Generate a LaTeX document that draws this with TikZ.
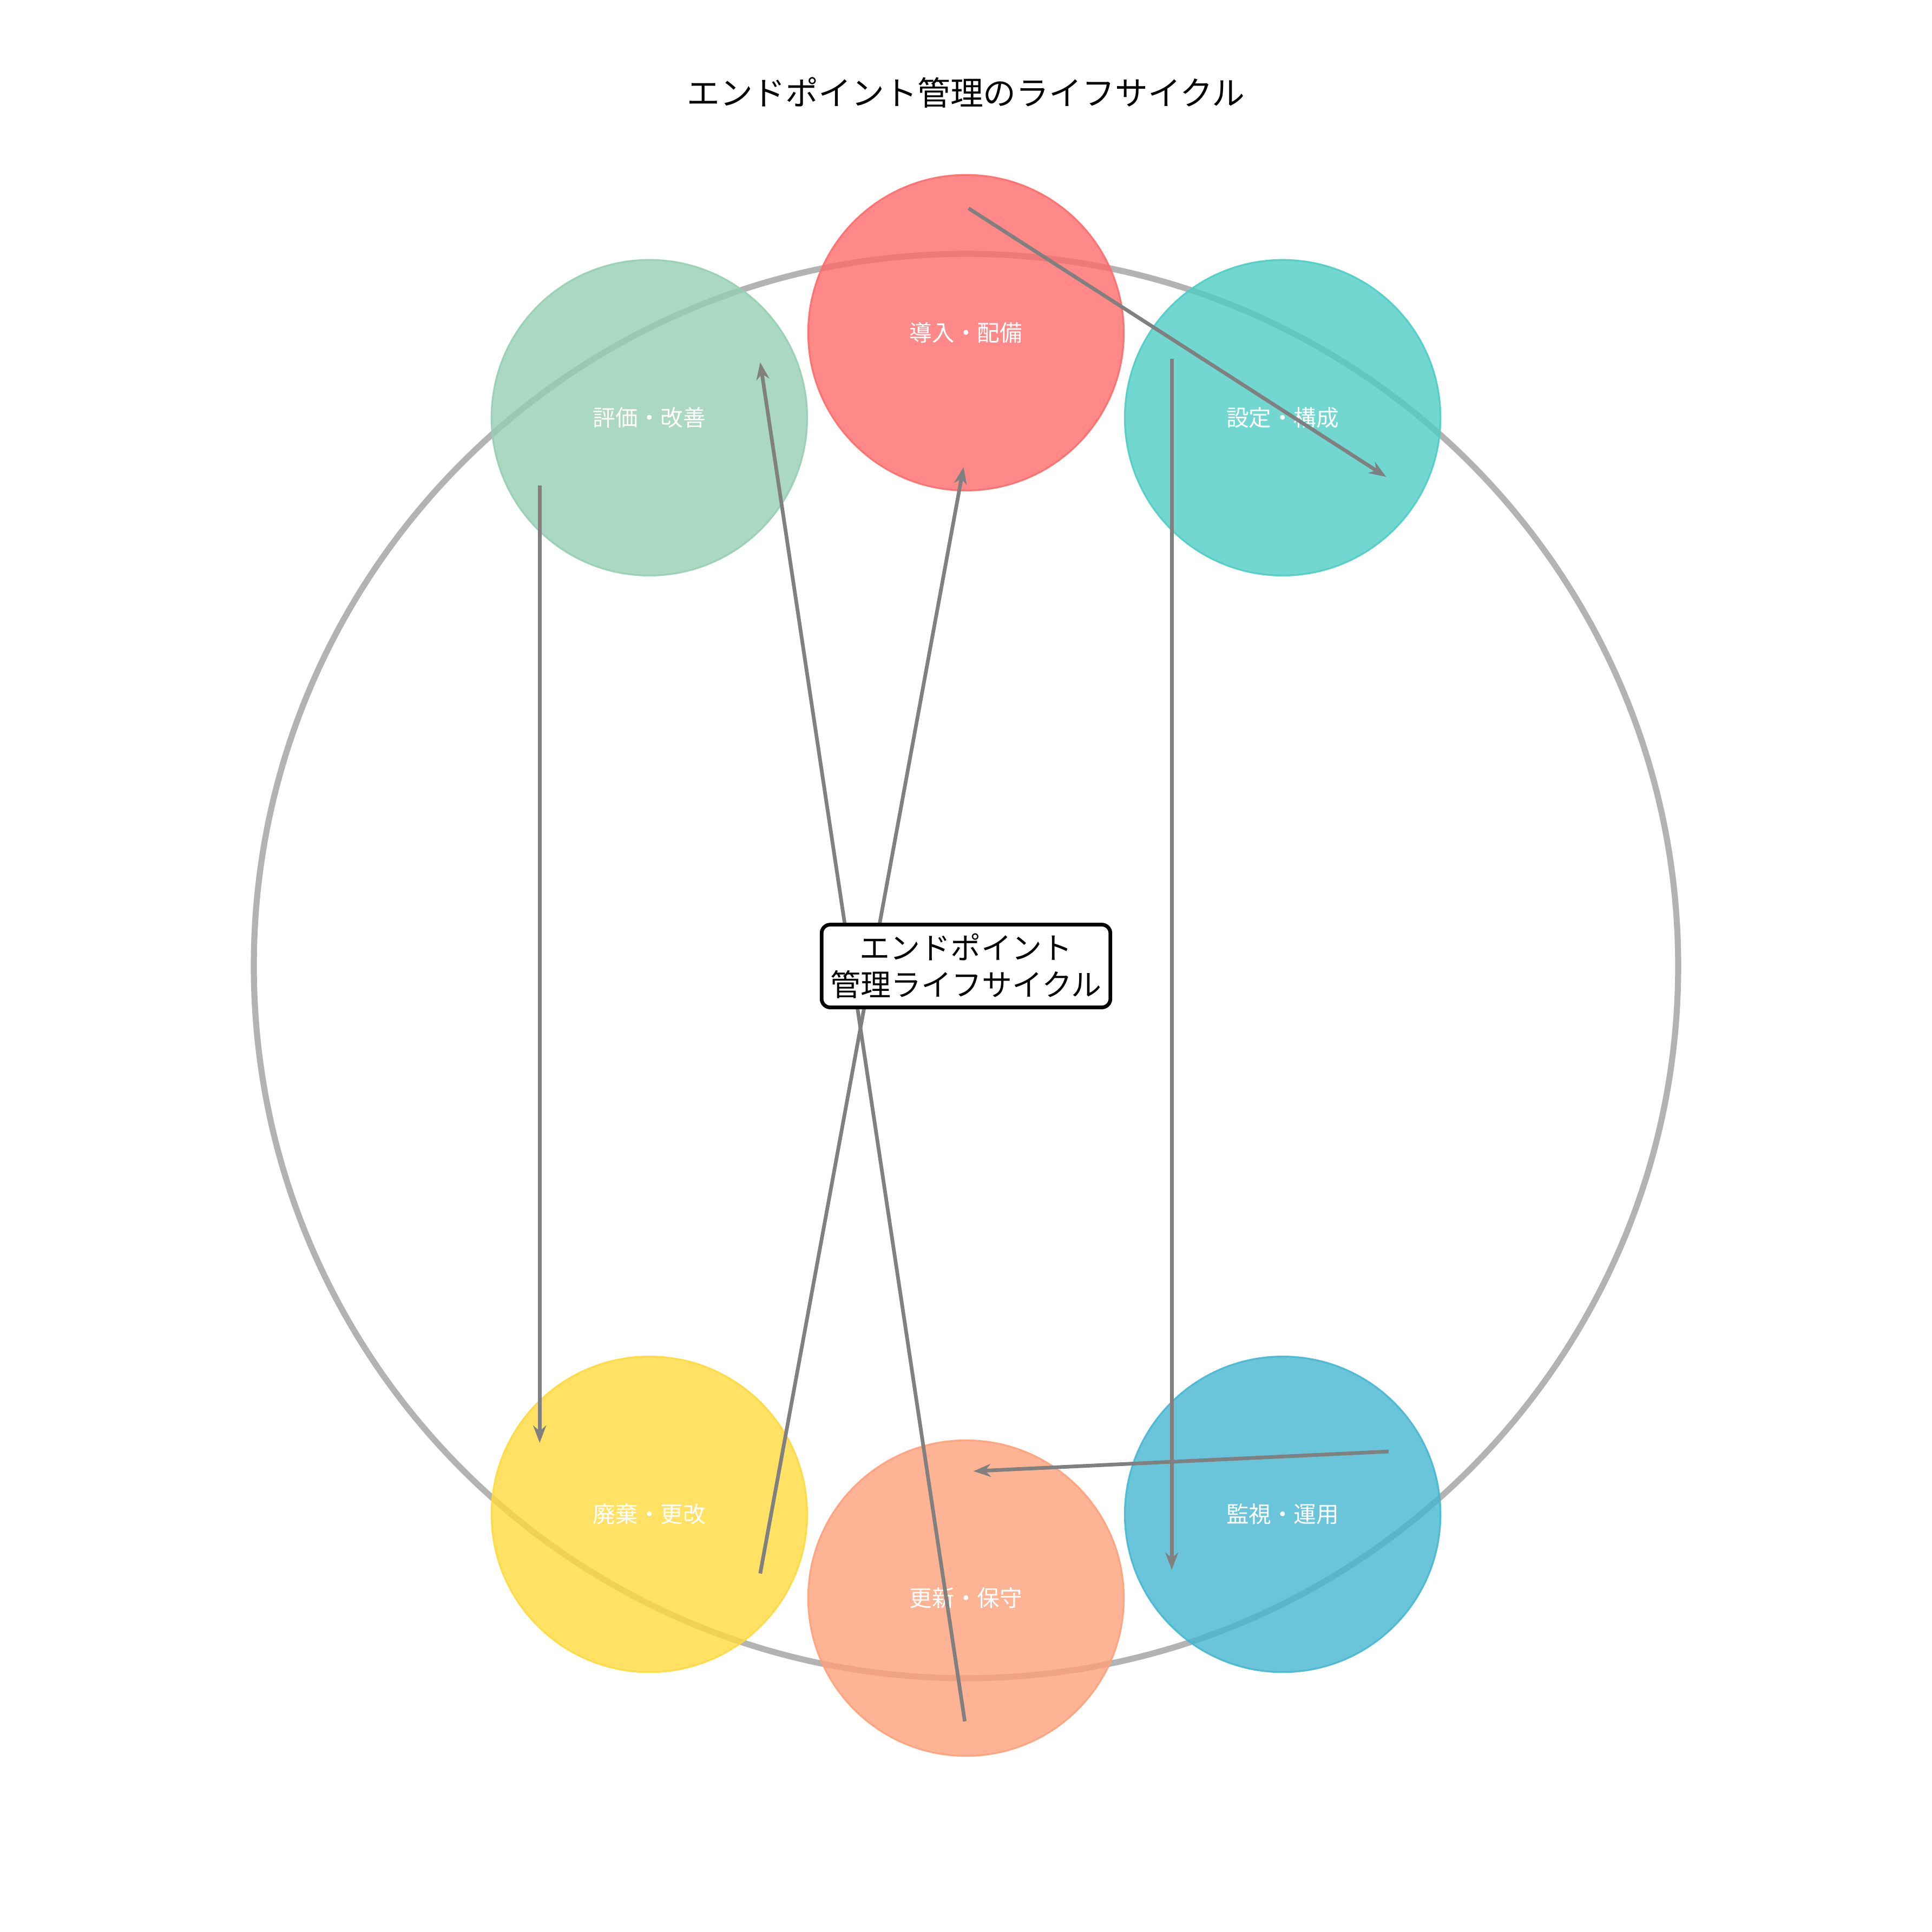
\documentclass[tikz,border=0pt]{standalone}
\usepackage{fontspec}
\setmainfont{Noto Sans CJK JP}
\usetikzlibrary{arrows.meta}
\definecolor{c1}{HTML}{FF6B6B}
\definecolor{c2}{HTML}{4ECDC4}
\definecolor{c3}{HTML}{45B7D1}
\definecolor{c4}{HTML}{FFA07A}
\definecolor{c5}{HTML}{FFD93D}
\definecolor{c6}{HTML}{96CEB4}
\begin{document}
\begin{tikzpicture}[x=0.01cm,y=-0.01cm,
  phase/.style={circle,minimum size=2.56cm,inner sep=0pt,draw=#1,fill=#1,fill opacity=0.8,draw opacity=0.9,line width=0.4pt,text=white,text opacity=1,font=\fontsize{5.2}{6}\selectfont},
  conn/.style={draw=gray,line width=0.85pt,-{Stealth[length=4pt,width=3pt]}}]
\useasboundingbox (0,0) rectangle (1568,1568);
\draw[gray,opacity=0.6,line width=1.4pt] (784,784) circle (578);
\node[phase=c1] (a) at (784,270) {導入・配備};
\node[phase=c2] (b) at (1041,339) {設定・構成};
\node[phase=c3] (c) at (1041,1229) {監視・運用};
\node[phase=c4] (d) at (784,1297) {更新・保守};
\node[phase=c5] (e) at (527,1229) {廃棄・更改};
\node[phase=c6] (f) at (527,339) {評価・改善};
\node[font=\fontsize{7.6}{9}\selectfont] (title) at (784,75) {エンドポイント管理のライフサイクル};
\coordinate (p1) at (786,169); \coordinate (q1) at (1125,387);
\coordinate (p2) at (951,291); \coordinate (q2) at (951,1274);
\coordinate (p3) at (1127,1178); \coordinate (q3) at (790,1194);
\coordinate (p4) at (783,1397); \coordinate (q4) at (617,294);
\coordinate (p5) at (617,1277); \coordinate (q5) at (782,379);
\coordinate (p6) at (438,394); \coordinate (q6) at (438,1171);
\draw[conn] (p1) -- (q1);
\draw[conn] (p2) -- (q2);
\draw[conn] (p3) -- (q3);
\draw[conn] (p4) -- (q4);
\draw[conn] (p5) -- (q5);
\draw[conn] (p6) -- (q6);
\node[draw=black,fill=white,line width=0.85pt,rounded corners=2pt,align=center,inner sep=2pt,font=\fontsize{7}{8.6}\selectfont] (center) at (784,784) {エンドポイント\\管理ライフサイクル};
\end{tikzpicture}
\end{document}
